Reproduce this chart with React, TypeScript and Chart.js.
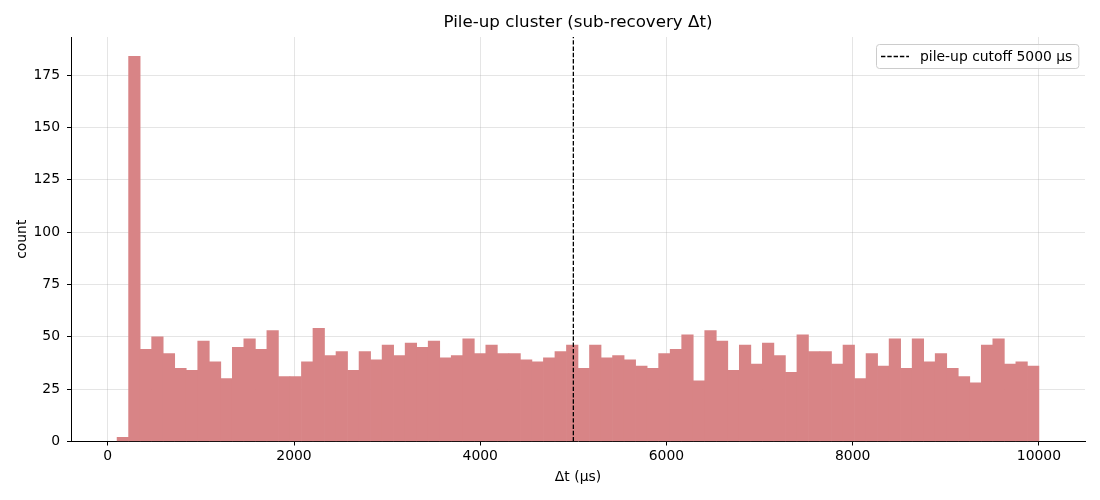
import React, { useEffect, useRef } from "react";
import { Chart, registerables } from "chart.js";

Chart.register(...registerables);

// ---- data ----
const BIN_START = 100;
const BIN_END = 10000;
const COUNTS = [
  2, 184, 44, 50, 42, 35, 34, 48, 38, 30,
  45, 49, 44, 53, 31, 31, 38, 54, 41, 43,
  34, 43, 39, 46, 41, 47, 45, 48, 40, 41,
  49, 42, 46, 42, 42, 39, 38, 40, 43, 46,
  35, 46, 40, 41, 39, 36, 35, 42, 44, 51,
  29, 53, 48, 34, 46, 37, 47, 41, 33, 51,
  43, 43, 37, 46, 30, 42, 36, 49, 35, 49,
  38, 42, 35, 31, 28, 46, 49, 37, 38, 36,
];
const CUTOFF = 5000;
const X_TICKS = [0, 2000, 4000, 6000, 8000, 10000];
const Y_TICKS = [0, 25, 50, 75, 100, 125, 150, 175];
const TITLE = "Pile-up cluster (sub-recovery Δt)";
const X_LABEL = "Δt (µs)";
const Y_LABEL = "count";
const LEGEND_LABEL = "pile-up cutoff 5000 µs";

const BIN_W = (BIN_END - BIN_START) / COUNTS.length;
const MARGIN_X = (BIN_END - BIN_START) * 0.05;
const X_MIN = BIN_START - MARGIN_X;
const X_MAX = BIN_END + MARGIN_X;
const Y_MAX = Math.max(...COUNTS) * 1.05;

const FONT = '"DejaVu Sans", sans-serif';
const FS = 13.9;
const TITLE_FS = 16.7;

const textPlugin = {
  id: "mplTexts",
  afterDraw(chart: any) {
    const { ctx, chartArea } = chart;
    const cx = (chartArea.left + chartArea.right) / 2;
    const cy = (chartArea.top + chartArea.bottom) / 2;
    ctx.save();
    ctx.fillStyle = "#000";
    ctx.textAlign = "center";
    ctx.textBaseline = "middle";
    ctx.font = `${TITLE_FS}px ${FONT}`;
    ctx.fillText(TITLE, cx, 23);
    ctx.font = `${FS}px ${FONT}`;
    ctx.fillText(X_LABEL, cx, 477);
    ctx.save();
    ctx.translate(22, cy);
    ctx.rotate(-Math.PI / 2);
    ctx.fillText(Y_LABEL, 0, 0);
    ctx.restore();

    // legend
    ctx.font = `${FS}px ${FONT}`;
    const tw = ctx.measureText(LEGEND_LABEL).width;
    const boxW = 44 + tw + 6;
    const boxH = 24;
    const bx = Math.round(chartArea.right - 7 - boxW);
    const by = Math.round(chartArea.top + 7);
    ctx.beginPath();
    (ctx as any).roundRect(bx + 0.5, by + 0.5, boxW, boxH, 3);
    ctx.fillStyle = "rgba(255,255,255,0.8)";
    ctx.fill();
    ctx.strokeStyle = "#cccccc";
    ctx.lineWidth = 1;
    ctx.stroke();
    ctx.beginPath();
    ctx.setLineDash([4.4, 1.9]);
    ctx.strokeStyle = "#000";
    ctx.lineWidth = 1.3;
    ctx.moveTo(bx + 5, by + boxH / 2 + 0.5);
    ctx.lineTo(bx + 33, by + boxH / 2 + 0.5);
    ctx.stroke();
    ctx.setLineDash([]);
    ctx.fillStyle = "#000";
    ctx.textAlign = "left";
    ctx.fillText(LEGEND_LABEL, bx + 44, by + boxH / 2 + 1);
    ctx.restore();
  },
};

export default function App() {
  const ref = useRef<HTMLCanvasElement | null>(null);

  useEffect(() => {
    if (!ref.current) return;
    const bars = COUNTS.map((c, i) => ({ x: BIN_START + BIN_W * (i + 0.5), y: c }));
    const cutoffLine = [
      { x: CUTOFF, y: 0 },
      { x: CUTOFF, y: Y_MAX },
    ];
    const chart = new Chart(ref.current, {
      type: "bar",
      data: {
        datasets: [
          {
            type: "line",
            label: LEGEND_LABEL,
            data: cutoffLine,
            borderColor: "#000",
            borderWidth: 1.3,
            borderDash: [4.4, 1.9],
            pointRadius: 0,
            fill: false,
            order: 0,
          } as any,
          {
            type: "bar",
            label: "histogram",
            data: bars,
            backgroundColor: "#d88486",
            borderWidth: 0,
            barPercentage: 1,
            categoryPercentage: 1,
            grouped: false,
            order: 1,
          } as any,
        ],
      },
      options: {
        animation: false,
        responsive: true,
        maintainAspectRatio: false,
        devicePixelRatio: 1,
        layout: { padding: { left: 0, top: 37, right: 15, bottom: 0 } },
        plugins: {
          legend: { display: false },
          title: { display: false },
          tooltip: { enabled: false },
        },
        scales: {
          x: {
            type: "linear",
            min: X_MIN,
            max: X_MAX,
            offset: false,
            z: 1,
            afterFit: (s: any) => {
              s.height = 58.5;
            },
            afterBuildTicks: (s: any) => {
              s.ticks = X_TICKS.map((v) => ({ value: v }));
            },
            grid: {
              offset: false,
              color: "rgba(176,176,176,0.33)",
              lineWidth: 1,
              drawTicks: true,
              tickLength: 4,
              tickColor: "#000",
              tickWidth: 1,
            },
            border: { display: true, color: "#000", width: 1 },
            ticks: {
              color: "#000",
              font: { family: FONT, size: FS },
              padding: 3,
              maxRotation: 0,
              autoSkip: false,
              callback: (v: any) => String(v),
            },
          },
          y: {
            type: "linear",
            min: 0,
            max: Y_MAX,
            z: 1,
            afterFit: (s: any) => {
              s.width = 71;
            },
            afterBuildTicks: (s: any) => {
              s.ticks = Y_TICKS.map((v) => ({ value: v }));
            },
            grid: {
              color: "rgba(176,176,176,0.33)",
              lineWidth: 1,
              drawTicks: true,
              tickLength: 4,
              tickColor: "#000",
              tickWidth: 1,
            },
            border: { display: true, color: "#000", width: 1 },
            ticks: {
              color: "#000",
              font: { family: FONT, size: FS },
              padding: 7,
              autoSkip: false,
              callback: (v: any) => String(v),
            },
          },
        },
      },
      plugins: [textPlugin],
    } as any);
    return () => chart.destroy();
  }, []);

  return (
    <div style={{ position: "absolute", left: 0, top: 0, width: 1100, height: 500, background: "#fff" }}>
      <canvas ref={ref} />
    </div>
  );
}
